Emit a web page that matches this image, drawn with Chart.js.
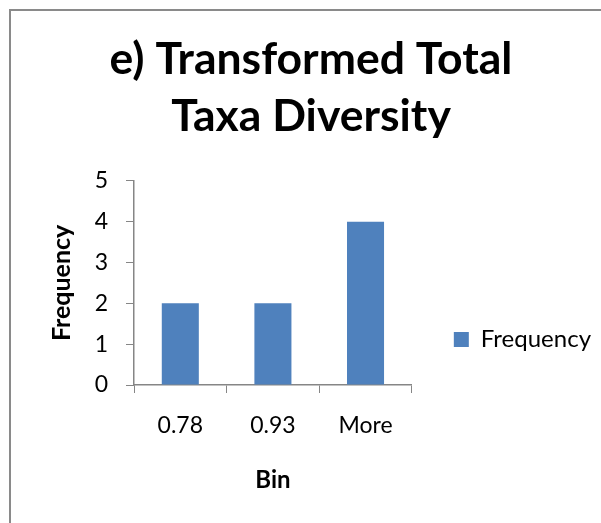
<!DOCTYPE html>
<html>
<head>
<meta charset="utf-8">
<script src="https://cdn.jsdelivr.net/npm/chart.js@4"></script>
<style>
  html, body { margin: 0; padding: 0; overflow: hidden; background: #fff; }
  #frame { position: absolute; left: 9px; top: 9px; width: 700px; height: 700px; border: 2px solid #8a8a8a; }
  #Chart1 { position: absolute; left: 0; top: 0; }
</style>
</head>
<body>
<div id="frame"></div>
<canvas id="Chart1" width="601" height="523"></canvas>
<script>
// dane histogramu
const bins = ['0.78', '0.93', 'More'];
const frequency = [2, 2, 4];
const titleLines = ['e) Transformed Total', 'Taxa Diversity'];

const FONT = 'Lato, "Open Sans", sans-serif';

const ctx = document.getElementById('Chart1');

new Chart(ctx, {
  type: 'bar',
  data: {
    labels: bins,
    datasets: [{
      label: 'Frequency',
      data: frequency,
      backgroundColor: '#4F81BD',
      borderWidth: 0,
      barPercentage: 0.4,
      categoryPercentage: 1
    }]
  },
  options: {
    responsive: false,
    animation: false,
    layout: { padding: { left: 21, right: 0, top: 0, bottom: 0 } },
    plugins: {
      title: {
        display: true,
        text: titleLines,
        color: '#000',
        font: { family: FONT, size: 44.5, weight: 'bold', lineHeight: 1.29 },
        padding: { top: 31, bottom: 35 }
      },
      legend: {
        position: 'right',
        align: 'start',
        maxWidth: 190,
        // pusty tytul legendy tylko przesuwa wpis w dol
        title: {
          display: true,
          text: ' ',
          color: 'rgba(0,0,0,0)',
          font: { size: 12 },
          padding: { top: 271, bottom: 0 }
        },
        labels: {
          color: '#000',
          boxWidth: 15,
          boxHeight: 15,
          padding: 42,
          font: { family: FONT, size: 24 }
        }
      },
      tooltip: { enabled: false }
    },
    scales: {
      x: {
        afterFit: s => { s.height = 138; },
        grid: { drawOnChartArea: false, drawTicks: true, tickLength: 8, color: '#868686', offset: true },
        border: { color: '#868686', width: 1.5 },
        ticks: { color: '#000', padding: 19, font: { family: FONT, size: 23 } },
        title: {
          display: true,
          text: 'Bin',
          color: '#000',
          font: { family: FONT, size: 24, weight: 'bold' },
          padding: { top: 0, bottom: 28.5 }
        }
      },
      y: {
        min: 0,
        max: 5,
        afterFit: s => { s.width = 113; },
        grid: { drawOnChartArea: false, drawTicks: true, tickLength: 8, color: '#868686' },
        border: { color: '#868686', width: 1.5 },
        ticks: { stepSize: 1, color: '#000', padding: 18, font: { family: FONT, size: 23 } },
        title: {
          display: true,
          text: 'Frequency',
          color: '#000',
          font: { family: FONT, size: 25, weight: 'bold' },
          padding: { top: 26, bottom: 0 }
        }
      }
    }
  }
});
</script>
</body>
</html>
